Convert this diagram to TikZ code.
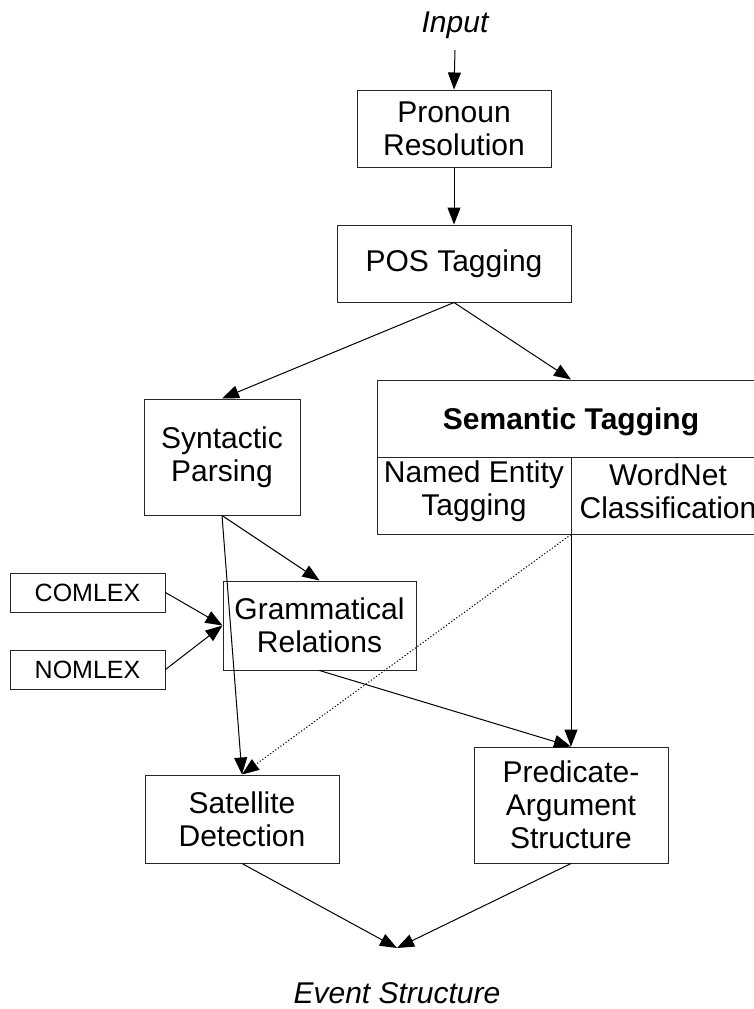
\documentclass[tikz,border=0pt]{standalone}
\usepackage{fontspec}
\setmainfont{Liberation Sans}
\usetikzlibrary{arrows.meta}
\begin{document}
\begin{tikzpicture}[x=0.5pt,y=-0.5pt,
  box/.style={draw=black!85, line width=0.5pt, rectangle, inner sep=0pt, align=center,
              font=\fontsize{15pt}{16.5pt}\selectfont},
  lexbox/.style={box, font=\fontsize{12.5pt}{14pt}\selectfont},
  celltext/.style={inner sep=0pt, align=center, font=\fontsize{15pt}{16.5pt}\selectfont},
  headtext/.style={celltext, font=\fontsize{15pt}{16.5pt}\selectfont\bfseries},
  title/.style={inner sep=0pt, font=\fontsize{15pt}{16.5pt}\selectfont\itshape},
  flow/.style={line width=0.5pt, -{Triangle[length=8.5pt,width=6.5pt]}},
  hint/.style={flow, dash pattern=on 0.6pt off 1pt}]
\useasboundingbox (0,0) rectangle (754,1009);

% processing stages
\node[title, anchor=base] (input) at (455,32) {Input};
\node[box, minimum width=97pt, minimum height=38.5pt] (pron) at (454,128.5) {Pronoun\\Resolution};
\node[box, minimum width=117pt, minimum height=38.5pt] (pos) at (454,263.5) {POS Tagging};
\node[box, minimum width=78pt, minimum height=58pt] (syn) at (222,457) {Syntactic\\Parsing};

% semantic tagging block with two sub-cells
\node[box, minimum width=194pt, minimum height=77pt] (sem) at (571,457) {};
\node[headtext] (semhead) at (571,422) {Semantic Tagging};
\node[celltext] (ner) at (474,491) {Named Entity\\Tagging};
\node[celltext] (wn) at (668,491) {WordNet\\Classification};
\draw[line width=0.5pt, black!85] (sem.west) -- (sem.east);
\draw[line width=0.5pt, black!85] (sem.center) -- (sem.south);

\node[box, minimum width=96.5pt, minimum height=44.5pt] (gram) at (319.5,625.5) {Grammatical\\Relations};
\node[lexbox, minimum width=77.5pt, minimum height=19.5pt] (comlex) at (87.5,592.5) {COMLEX};
\node[lexbox, minimum width=77.5pt, minimum height=19.5pt] (nomlex) at (87.5,669.5) {NOMLEX};
\node[box, minimum width=97pt, minimum height=44pt] (sat) at (242,819) {Satellite\\Detection};
\node[box, minimum width=97pt, minimum height=58pt] (pred) at (571,805) {Predicate-\\Argument\\Structure};
\node[title, anchor=base] (event) at (397,1003) {Event Structure};
\coordinate (merge) at (397,948);

% connectors
\draw[flow] ([yshift=-9pt]input.base) -- (pron.north);
\draw[flow] (pron.south) -- (pos.north);
\draw[flow] (pos.south) -- (syn.north);
\draw[flow] (pos.south) -- (sem.north);
\draw[flow] (syn.south) -- (gram.north);
\draw[flow] (syn.south) -- (sat.north);
\draw[flow] (comlex.east) -- (gram.west);
\draw[flow] (nomlex.east) -- (gram.west);
\draw[hint] (sem.south) -- (sat.north);
\draw[flow] (sem.south) -- (pred.north);
\draw[flow] (gram.south) -- (pred.north);
\draw[flow] (sat.south) -- (merge);
\draw[flow] (pred.south) -- (merge);
\end{tikzpicture}
\end{document}
